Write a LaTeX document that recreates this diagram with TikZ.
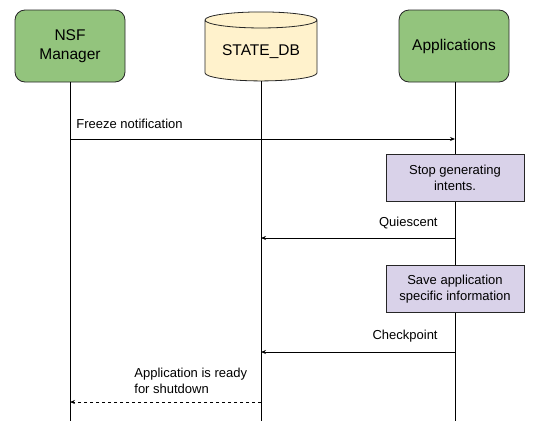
\documentclass[tikz,border=0pt]{standalone}
\usepackage{fontspec}
\setmainfont{Liberation Sans}
\usepackage{xcolor}
\usetikzlibrary{shapes.geometric,arrows.meta}

\definecolor{actorgreen}{HTML}{93C47D}
\definecolor{dbyellow}{HTML}{FFF2CC}
\definecolor{steplilac}{HTML}{D9D2E9}

\tikzset{
  actor/.style={draw=black!85, fill=actorgreen, rounded corners=10pt, line width=0.8pt,
    minimum width=110pt, minimum height=72pt, align=center,
    font=\fontsize{15.5}{19}\selectfont},
  store/.style={draw=black!85, fill=dbyellow, cylinder, shape border rotate=90, aspect=0.19,
    line width=0.8pt, minimum width=112pt, minimum height=69pt,
    font=\fontsize{15.5}{19}\selectfont},
  stepbox/.style={draw=black!85, fill=steplilac, line width=0.8pt,
    minimum width=138pt, minimum height=47pt, align=center,
    font=\fontsize{13}{16}\selectfont},
  lifeline/.style={line width=0.8pt},
  msg/.style={line width=0.8pt, -{Stealth[length=5pt,width=4pt]}},
  reply/.style={msg, dashed},
  msglabel/.style={font=\fontsize{13}{16}\selectfont, inner sep=0pt, align=left}
}

\begin{document}
\begin{tikzpicture}[x=1pt,y=-1pt]
\useasboundingbox (0,0) rectangle (534,434);

% participants
\node[actor] (nsf) at (70,46) {NSF\\Manager};
\node[store] (db) at (261,52) {STATE\_DB};
\node[actor] (apps) at (454,46) {Applications};

% lifelines
\coordinate (nsf-end) at (70,421);
\coordinate (db-end) at (261,421);
\coordinate (apps-end) at (455,421);
\draw[lifeline] (nsf.south) -- (nsf-end);
\draw[lifeline] (db.south) -- (db-end);
\draw[lifeline] (apps.south -| apps-end) -- (apps-end);

% activities of the applications
\node[stepbox] (stop) at (455,178) {Stop generating\\intents.};
\node[stepbox] (save) at (455,289) {Save application\\specific information};

% message end points
\coordinate (freeze-a) at (70,139);
\coordinate (freeze-b) at (455,139);
\coordinate (quiet-a) at (455,238);
\coordinate (quiet-b) at (261,238);
\coordinate (chk-a) at (455,352);
\coordinate (chk-b) at (261,352);
\coordinate (ready-a) at (261,402);
\coordinate (ready-b) at (70,402);

% messages
\draw[msg] (freeze-a) -- node[msglabel, pos=0, anchor=south west, xshift=6pt, yshift=10pt] (freeze-lbl) {Freeze notification} (freeze-b);
\draw[msg] (quiet-a) -- node[msglabel, pos=0, anchor=south east, xshift=-17pt, yshift=9pt] (quiet-lbl) {Quiescent} (quiet-b);
\draw[msg] (chk-a) -- node[msglabel, pos=0, anchor=south east, xshift=-17pt, yshift=9pt] (chk-lbl) {Checkpoint} (chk-b);
\draw[reply] (ready-a) -- node[msglabel, pos=0.665, anchor=south west, yshift=8pt] (ready-lbl) {Application is ready\\for shutdown} (ready-b);
\end{tikzpicture}
\end{document}
